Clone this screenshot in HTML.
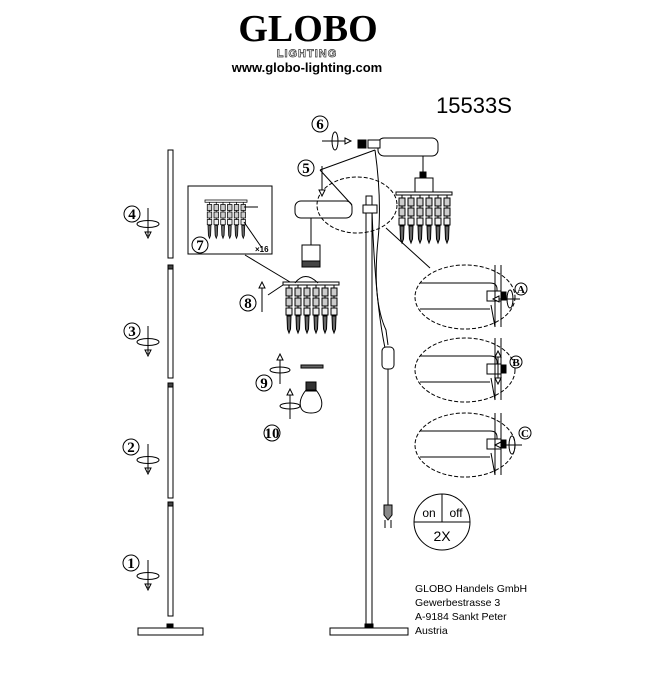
<!DOCTYPE html>
<html><head><meta charset="utf-8"><style>
body{margin:0;background:#fff}
svg{display:block}
text{font-family:"Liberation Sans",sans-serif;fill:#000}
.n{font-family:"Liberation Serif",serif;font-weight:bold;font-size:15px;text-anchor:middle}
</style></head><body>
<svg width="650" height="677" viewBox="0 0 650 677" xmlns="http://www.w3.org/2000/svg" fill="none" stroke="#000" stroke-width="1">
<defs>
<g id="strand">
  <line x1="0" y1="0" x2="0" y2="44"/>
  <rect x="-3" y="3" width="6" height="8" fill="#ccc"/>
  <rect x="-3" y="13" width="6" height="8" fill="#ccc"/>
  <rect x="-3" y="23" width="6" height="7" fill="#eee"/>
  <path d="M-2 31 L2 31 L1.5 44 L0 48 L-1.5 44Z" fill="#666"/>
</g>
<g id="crys">
  <rect x="0" y="0" width="56" height="3" fill="#fff"/>
  <use href="#strand" x="6" y="3"/><use href="#strand" x="15" y="3"/><use href="#strand" x="24" y="3"/>
  <use href="#strand" x="33" y="3"/><use href="#strand" x="42" y="3"/><use href="#strand" x="51" y="3"/>
</g>
<g id="rot">
  <line x1="0" y1="-14" x2="0" y2="14"/>
  <ellipse cx="0" cy="2" rx="11" ry="3.5"/>
</g>
<g id="dn"><line x1="0" y1="-14" x2="0" y2="10"/><path d="M-3 10 L3 10 L0 16Z" fill="#fff"/></g>
<g id="up"><line x1="0" y1="14" x2="0" y2="-10"/><path d="M-3 -10 L3 -10 L0 -16Z" fill="#fff"/></g>
<g id="zoomc">
  <ellipse cx="0" cy="0" rx="50" ry="32" stroke-dasharray="4 2"/>
  <path d="M-45 -14 L25 -14 Q32 -14 32 -8 L32 2 M-45 12 L25 12"/>
  <rect x="22" y="-6" width="14" height="10" fill="#fff"/>
  <rect x="36" y="-5" width="5" height="8" fill="#000"/>
  <line x1="30" y1="-32" x2="30" y2="30"/><line x1="36" y1="-32" x2="36" y2="30"/>
  <line x1="26" y1="8" x2="30" y2="30"/>
</g>
</defs>

<!-- header -->
<text x="308" y="41" style="font-family:'Liberation Serif',serif;font-weight:bold;font-size:38px;text-anchor:middle;fill:#000" stroke="none">GLOBO</text>
<text x="307" y="57" style="font-size:11px;font-weight:bold;text-anchor:middle;fill:#fff;letter-spacing:1px" stroke="#333" stroke-width="0.7">LIGHTING</text>
<text x="307" y="72" style="font-size:13px;font-weight:bold;text-anchor:middle" stroke="none">www.globo-lighting.com</text>
<text x="474" y="113" style="font-size:22px;text-anchor:middle" stroke="none">15533S</text>

<!-- left pole segments -->
<rect x="168" y="150" width="5" height="108"/>
<rect x="168" y="268" width="5" height="110" /><rect x="168" y="265" width="5" height="4" fill="#444"/>
<rect x="168" y="386" width="5" height="112"/><rect x="168" y="383" width="5" height="4" fill="#444"/>
<rect x="168" y="505" width="5" height="111"/><rect x="168" y="502" width="5" height="4" fill="#444"/>
<rect x="138" y="628" width="65" height="7"/><rect x="167" y="624" width="6" height="4" fill="#000"/>

<!-- left numbers and arrows -->
<circle cx="132" cy="214" r="8"/><text class="n" x="132" y="219" stroke="none">4</text>
<use href="#dn" x="148" y="222"/><use href="#rot" x="148" y="222"/>
<circle cx="132" cy="331" r="8"/><text class="n" x="132" y="336" stroke="none">3</text>
<use href="#dn" x="148" y="340"/><use href="#rot" x="148" y="340"/>
<circle cx="131" cy="447" r="8"/><text class="n" x="131" y="452" stroke="none">2</text>
<use href="#dn" x="148" y="458"/><use href="#rot" x="148" y="458"/>
<circle cx="131" cy="563" r="8"/><text class="n" x="131" y="568" stroke="none">1</text>
<use href="#dn" x="148" y="574"/><use href="#rot" x="148" y="574"/>

<!-- box 7 -->
<rect x="188" y="186" width="84" height="68"/>
<use href="#crys" x="205" y="200" transform="translate(205 200) scale(0.75) translate(-205 -200)"/>
<line x1="244" y1="207" x2="258" y2="207"/>
<line x1="244" y1="222" x2="262" y2="248"/>
<circle cx="200" cy="245" r="8"/><text class="n" x="200" y="250" stroke="none">7</text>
<text x="255" y="252" style="font-size:8px;font-weight:bold" stroke="none">×16</text>
<line x1="245" y1="255" x2="290" y2="282"/>

<!-- left head -->
<rect x="295" y="201" width="57" height="17" rx="6" fill="#fff"/>
<line x1="311" y1="218" x2="311" y2="245"/>
<rect x="302" y="245" width="18" height="16" fill="#fff"/>
<rect x="302" y="261" width="18" height="6" fill="#444"/>
<use href="#crys" x="283" y="282"/>
<path d="M295 283 Q305 270 318 283"/>
<line x1="268" y1="295" x2="283" y2="285"/>
<use href="#up" x="262" y="298"/>
<circle cx="248" cy="303" r="8"/><text class="n" x="248" y="308" stroke="none">8</text>

<!-- 9,10 bulb -->
<rect x="301" y="365" width="22" height="3" fill="#666"/>
<rect x="306" y="382" width="10" height="9" fill="#333"/>
<path d="M306 390 Q298 400 301 408 Q303 413 311 413 Q319 413 321 408 Q324 400 316 390Z"/>
<use href="#up" x="280" y="370"/><ellipse cx="280" cy="370" rx="10" ry="3"/>
<circle cx="264" cy="383" r="8"/><text class="n" x="264" y="388" stroke="none">9</text>
<use href="#up" x="290" y="405"/><ellipse cx="290" cy="406" rx="10" ry="3"/>
<circle cx="272" cy="433" r="8"/><text class="n" x="272" y="438" stroke="none">10</text>

<!-- main pole -->
<rect x="366" y="196" width="6" height="432"/>
<rect x="330" y="628" width="78" height="7"/><rect x="365" y="624" width="8" height="4" fill="#000"/>
<!-- upper head -->
<rect x="378" y="138" width="60" height="18" rx="6" fill="#fff"/>
<rect x="368" y="140" width="12" height="8" fill="#fff"/>
<rect x="358" y="140" width="8" height="8" fill="#000"/>
<line x1="423" y1="156" x2="423" y2="180"/><rect x="420" y="172" width="6" height="6" fill="#000"/>
<rect x="415" y="178" width="18" height="14" fill="#fff"/>
<use href="#crys" x="396" y="192"/>
<!-- cable -->
<path d="M375 150 Q382 200 378 240 Q372 300 386 330 L388 345"/>
<path d="M372 210 Q375 300 385 348"/>
<rect x="382" y="347" width="12" height="22" rx="4" fill="#fff"/>
<line x1="388" y1="369" x2="388" y2="505"/>
<path d="M384 505 L392 505 L392 515 L388 520 L384 515Z" fill="#888"/>
<line x1="385" y1="520" x2="385" y2="528"/><line x1="391" y1="520" x2="391" y2="528"/>
<!-- mid zoom dashed ellipse on pole -->
<ellipse cx="357" cy="205" rx="40" ry="28" stroke-dasharray="4 2"/>
<rect x="363" y="205" width="14" height="8" fill="#fff"/>
<line x1="320" y1="170" x2="352" y2="205"/><line x1="320" y1="170" x2="375" y2="150"/>
<line x1="386" y1="228" x2="430" y2="268"/>
<!-- 5,6 -->
<circle cx="306" cy="168" r="8"/><text class="n" x="306" y="173" stroke="none">5</text>
<use href="#dn" x="322" y="180"/>
<circle cx="320" cy="124" r="8"/><text class="n" x="320" y="129" stroke="none">6</text>
<line x1="322" y1="141" x2="345" y2="141"/><path d="M345 138 L351 141 L345 144Z" fill="#fff"/>
<ellipse cx="335" cy="141" rx="3" ry="9"/>

<!-- zoom circles -->
<use href="#zoomc" x="465" y="297"/>
<use href="#zoomc" x="465" y="370"/>
<use href="#zoomc" x="465" y="445"/>
<line x1="495" y1="299" x2="520" y2="299"/><path d="M499 296 L493 299 L499 302Z" fill="#fff"/><ellipse cx="510" cy="299" rx="3" ry="9"/>
<circle cx="521" cy="289" r="6"/><text x="521" y="293" style="font-size:11px;font-weight:bold;text-anchor:middle;font-family:'Liberation Serif',serif" stroke="none">A</text>
<line x1="498" y1="355" x2="498" y2="380"/><path d="M495 357 L498 351 L501 357Z M495 378 L498 384 L501 378Z" fill="#fff"/>
<circle cx="516" cy="362" r="6"/><text x="516" y="366" style="font-size:11px;font-weight:bold;text-anchor:middle;font-family:'Liberation Serif',serif" stroke="none">B</text>
<line x1="497" y1="445" x2="522" y2="445"/><path d="M501 442 L495 445 L501 448Z" fill="#fff"/><ellipse cx="512" cy="445" rx="3" ry="9"/>
<circle cx="525" cy="433" r="6"/><text x="525" y="437" style="font-size:11px;font-weight:bold;text-anchor:middle;font-family:'Liberation Serif',serif" stroke="none">C</text>

<!-- on/off -->
<circle cx="442" cy="522" r="28"/>
<line x1="414" y1="522" x2="470" y2="522"/><line x1="442" y1="494" x2="442" y2="522"/>
<text x="429" y="517" style="font-size:12px;text-anchor:middle" stroke="none">on</text>
<text x="456" y="517" style="font-size:12px;text-anchor:middle" stroke="none">off</text>
<text x="442" y="541" style="font-size:14px;text-anchor:middle" stroke="none">2X</text>

<!-- address -->
<g stroke="none" style="font-size:10.5px">
<text x="415" y="592">GLOBO Handels GmbH</text>
<text x="415" y="606">Gewerbestrasse 3</text>
<text x="415" y="620">A-9184 Sankt Peter</text>
<text x="415" y="634">Austria</text>
</g>
</svg>
</body></html>
